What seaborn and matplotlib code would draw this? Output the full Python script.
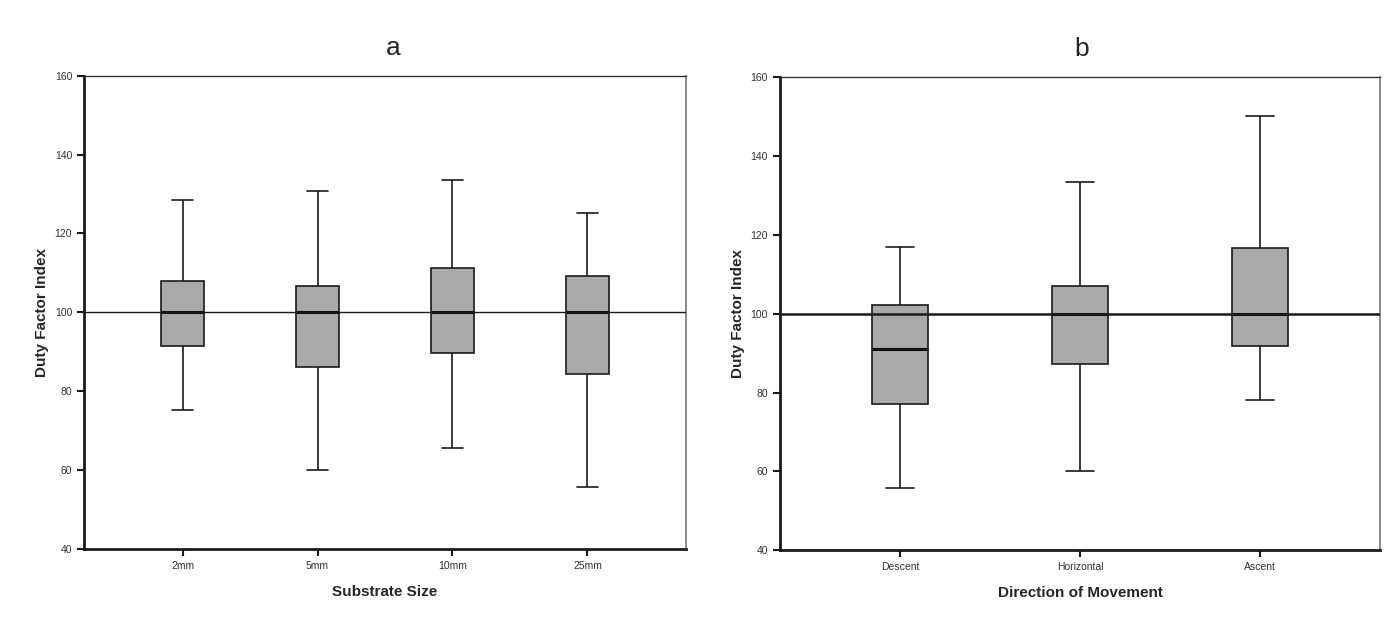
import pandas as pd
import matplotlib
matplotlib.use("Agg")
import matplotlib.pyplot as plt
import seaborn as sns

# DATA: five-number summaries (min, Q1, median, Q3, max)
substrate = ["2mm", "5mm", "10mm", "25mm"]
substrate_min = [75.2, 60.1, 65.6, 55.7]
substrate_q1 = [91.5, 86.2, 89.6, 84.3]
substrate_med = [100.0, 100.0, 100.0, 100.0]
substrate_q3 = [107.9, 106.7, 111.3, 109.1]
substrate_max = [128.6, 130.9, 133.6, 125.1]

direction = ["Descent", "Horizontal", "Ascent"]
direction_min = [55.7, 60.1, 78.0]
direction_q1 = [77.1, 87.3, 91.8]
direction_med = [91.0, 100.0, 100.0]
direction_q3 = [102.1, 107.0, 116.7]
direction_max = [116.8, 133.4, 150.0]


def long_table(groups, *cols):
    rows = []
    for i, g in enumerate(groups):
        for c in cols:
            rows.append({"group": g, "value": c[i]})
    return pd.DataFrame(rows)


df_a = long_table(substrate, substrate_min, substrate_q1, substrate_med,
                  substrate_q3, substrate_max)
df_b = long_table(direction, direction_min, direction_q1, direction_med,
                  direction_q3, direction_max)

sns.set_style("white")
plt.rcParams["font.family"] = ["Liberation Sans", "DejaVu Sans"]

fig = plt.figure(figsize=(14, 6.26), dpi=100)
ax_a = fig.add_axes([0.060, 0.123, 0.430, 0.756])
ax_b = fig.add_axes([0.557, 0.121, 0.429, 0.756])


def draw(ax, df, order, width, line_w, xlabel, title, title_x):
    sns.boxplot(data=df, x="group", y="value", order=order, ax=ax,
                whis=(0, 100), width=width, color="#a9a9a9",
                linecolor="#1a1a1a", linewidth=1.2, showfliers=False,
                saturation=1,
                boxprops={"edgecolor": "#1a1a1a"},
                medianprops={"linewidth": 2.2, "color": "#111111"})
    ax.axhline(100, color="#1a1a1a", linewidth=line_w, zorder=5)
    n = len(order)
    pad = 0.73 if n == 4 else 0.667
    ax.set_xlim(-pad, n - 1 + pad)
    ax.set_ylim(40, 160)
    ax.set_yticks(range(40, 161, 20))
    ax.tick_params(axis="both", direction="out", length=5, width=1.5,
                   colors="#1a1a1a", labelsize=7.5, labelcolor="#333333",
                   left=True, bottom=True)
    ax.set_xlabel(xlabel, fontsize=11, fontweight="bold", labelpad=10)
    ax.set_ylabel("Duty Factor Index", fontsize=11, fontweight="bold",
                  labelpad=4)
    ax.set_title(title, fontsize=19, pad=15, x=title_x)
    for side in ["left", "bottom"]:
        ax.spines[side].set_linewidth(2)
        ax.spines[side].set_color("#1a1a1a")
    ax.spines["top"].set_linewidth(1)
    ax.spines["top"].set_color("#333333")
    ax.spines["right"].set_linewidth(1.2)
    ax.spines["right"].set_color("#777777")


draw(ax_a, df_a, substrate, 0.32, 1.0, "Substrate Size", "a", 0.513)
draw(ax_b, df_b, direction, 0.31, 1.8, "Direction of Movement", "b", 0.503)

fig.savefig("out.png", dpi=100, facecolor="white")
